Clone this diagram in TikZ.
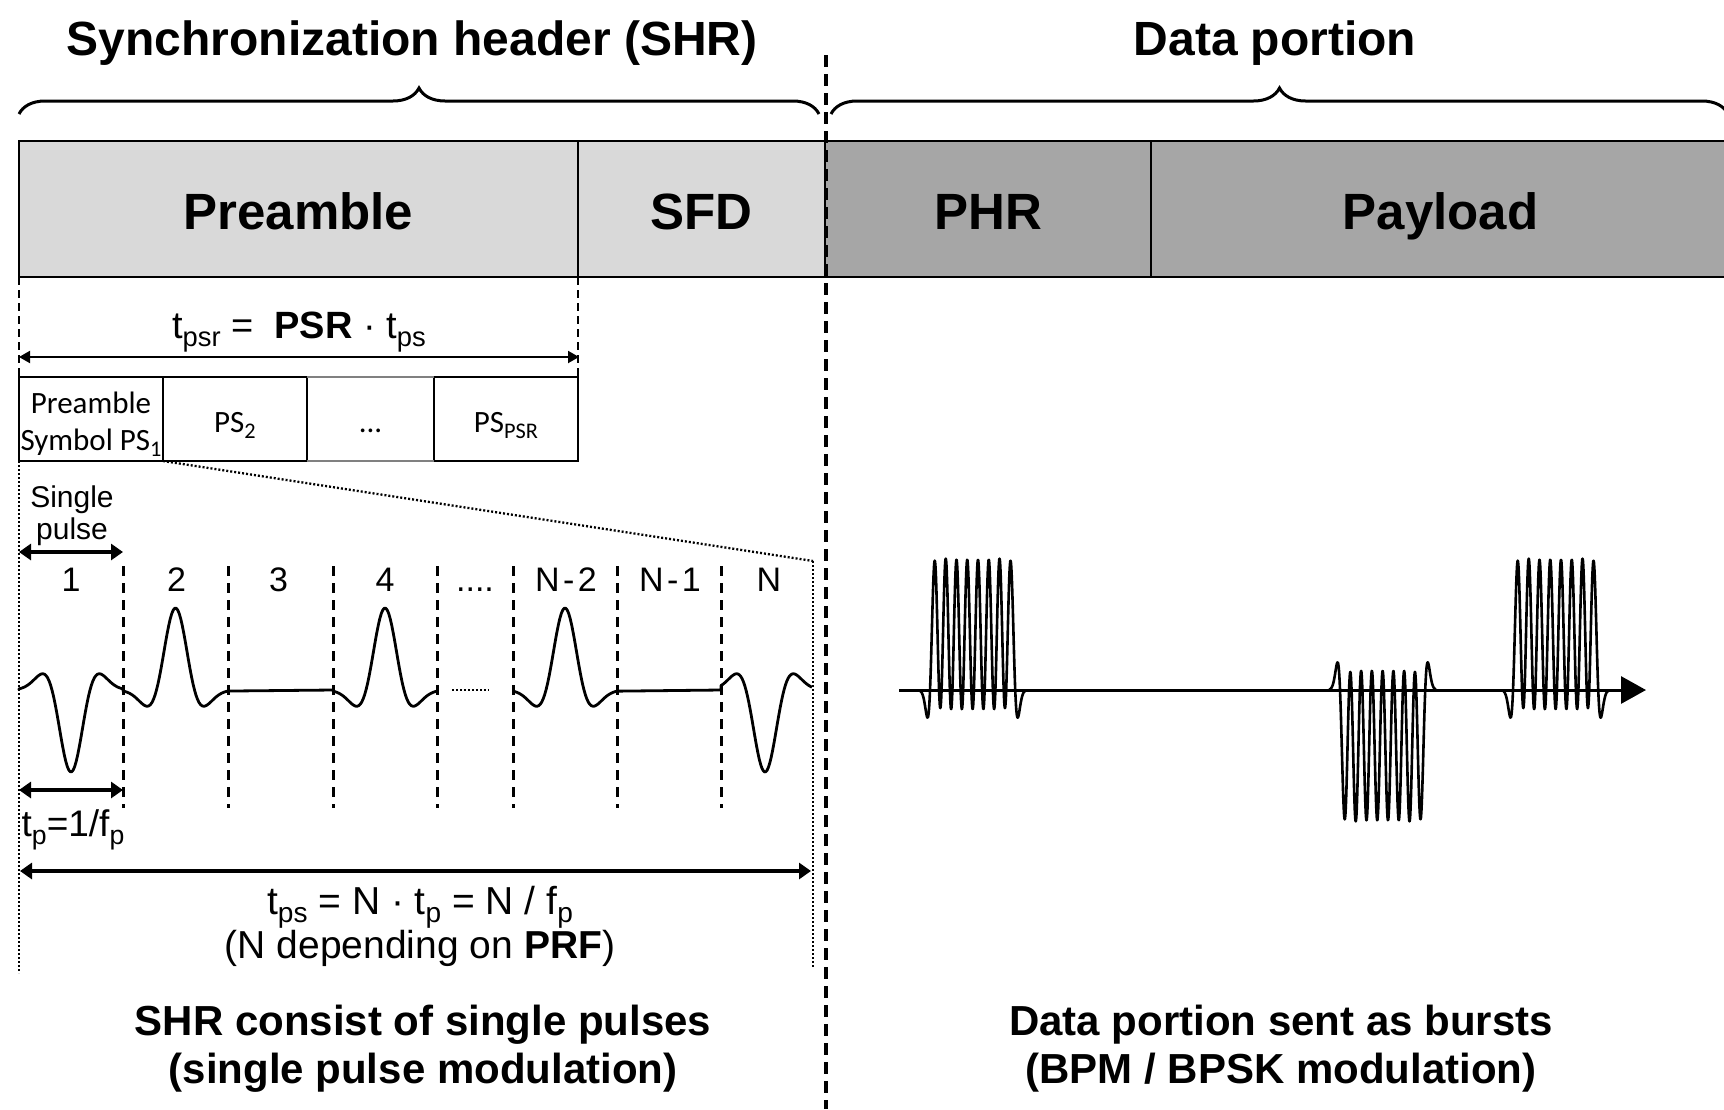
\documentclass[tikz,border=0pt]{standalone}
\usepackage{fontspec}
\setmainfont{Liberation Sans}
\newfontfamily\carlito{Carlito}
\usetikzlibrary{arrows.meta,decorations.pathreplacing}
\newcommand\lo[1]{\raisebox{-0.22em}{\scalebox{0.72}{#1}}}
\newcommand\fs[1]{\fontsize{#1}{#1}\selectfont}
\newcommand\dash[2]{#1\hspace{3.5pt}-\hspace{3.5pt}#2}
\definecolor{shrgray}{HTML}{D9D9D9}
\definecolor{datagray}{HTML}{A6A6A6}
\begin{document}
\begin{tikzpicture}[x=1pt,y=-1pt,
  every node/.style={inner sep=0pt, outer sep=0pt},
  lbl/.style={anchor=base},
  cell/.style={draw, line width=2.8pt, minimum height=136pt, text height=40pt, text depth=0pt, font=\fs{51}\bfseries},
  psbox/.style={draw, line width=2.5pt, minimum height=84pt, minimum width=144pt},
  thindim/.style={line width=2pt, {Triangle[length=11pt,width=12pt]}-{Triangle[length=11pt,width=12pt]}},
  thickdim/.style={line width=3.2pt, {Triangle[length=12pt,width=16pt]}-{Triangle[length=12pt,width=16pt]}},
  slotline/.style={line width=3pt, dash pattern=on 10pt off 7pt},
  boxguide/.style={line width=2.5pt, dash pattern=on 8pt off 5pt},
  guide/.style={line width=2.3pt, dash pattern=on 2pt off 2pt},
  wave/.style={line width=2.8pt, line join=round},
  burstline/.style={line width=2.6pt, line join=round},
  bracket/.style={line width=3pt, decorate, decoration={brace, amplitude=26pt}},
  declare function={
    pls(\t)=(1-\t*\t/361)*exp(-min(\t*\t/441,12));
    rk(\t)=(1-min(\t*\t/25,13))*exp(-min(\t*\t/30.25,12));
    burst(\t)=0.91*rk(\t)+rk(\t-10.75)+rk(\t-21.5)+rk(\t-32.25)+rk(\t-43)+rk(\t-53.75)+rk(\t-64.5)+0.91*rk(\t-75.25);
  }]
\useasboundingbox (0,0) rectangle (1724,1109);
\clip (0,0) rectangle (1724,1109);

% headings and braces
\node[lbl, font=\fs{48}\bfseries] (shrtitle) at (412,55) {Synchronization header (SHR)};
\node[lbl, font=\fs{48}\bfseries] (datatitle) at (1275,55) {Data portion};
\coordinate (shrL) at (19,114);
\coordinate (shrR) at (819,114);
\coordinate (datL) at (831,114);
\coordinate (datR) at (1728,114);
\draw[bracket] (shrL) -- (shrR);
\draw[bracket] (datL) -- (datR);

% frame fields
\node[cell, fill=shrgray, minimum width=559pt] (pre) at (298.5,209) {Preamble};
\node[cell, fill=shrgray, minimum width=247pt] (sfd) at (701.5,209) {SFD};
\node[cell, fill=datagray, minimum width=326pt] (phr) at (988,209) {PHR};
\node[cell, fill=datagray, minimum width=579pt] (pay) at (1440.5,209) {Payload};

% divider between header and data
\coordinate (divT) at (826,55);
\coordinate (divB) at (826,1109);
\draw[line width=4pt, dash pattern=on 12pt off 7pt] (divT) -- (divB);

% preamble symbols
\node[psbox] (ps1) at (91,419) {};
\node[psbox] (ps2) at (235,419) {};
\node[psbox] (psN) at (506,419) {};
\draw[gray, line width=2.5pt] (ps2.north east) -- (psN.north west);
\draw[gray, line width=2.5pt] (ps2.south east) -- (psN.south west);
\node[lbl, font=\fs{31}\carlito] (ps1a) at (91,413) {Preamble};
\node[lbl, font=\fs{31}\carlito] (ps1b) at (91,450) {Symbol PS\lo{1}};
\node[lbl, font=\fs{31}\carlito] (ps2t) at (235,432) {PS\lo{2}};
\node[lbl, font=\fs{31}\carlito] (ps3t) at (370.5,432) {...};
\node[lbl, font=\fs{31}\carlito] (psNt) at (506,432) {PS\lo{PSR}};

% preamble duration
\coordinate (preBL) at (19,277);
\coordinate (preBR) at (578,277);
\draw[boxguide] (preBL) -- (ps1.north west);
\draw[boxguide] (preBR) -- (psN.north east);
\node[lbl, font=\fs{38}] (tpsr) at (299,338) {t\lo{psr} =\ \ \textbf{PSR} · t\lo{ps}};
\coordinate (psrL) at (19,357);
\coordinate (psrR) at (579,357);
\draw[thindim] (psrL) -- (psrR);

% zoom into the first symbol
\coordinate (zoomR) at (813,561);
\coordinate (zoomRB) at (813,968);
\coordinate (zoomLB) at (19,973);
\draw[guide] (ps1.south east) -- (zoomR);
\draw[guide] (zoomR) -- (zoomRB);
\draw[guide] (ps1.south west) -- (zoomLB);

\node[lbl, font=\fs{30}] (sp1) at (72,507) {Single};
\node[lbl, font=\fs{30}] (sp2) at (72,539) {pulse};
\coordinate (spL) at (19,552);
\coordinate (spR) at (123,552);
\draw[thickdim] (spL) -- (spR);

% pulse slots
\foreach \xx [count=\i] in {123,228,333,437,513,617,721}
  \draw[slotline] (\xx,566) coordinate (slotT\i) -- (\xx,808) coordinate (slotB\i);
\foreach \xx/\txt [count=\i] in {71/{1},176.5/{2},278.5/{3},385/{4},475/{.\kern0pt.\kern0pt.\kern0pt.},566/{\dash{N}{2}},670/{\dash{N}{1}},769/{N}}
  \node[lbl, font=\fs{34}] (num\i) at (\xx,591) {\txt};

% single pulse train
\draw[wave] (19,690)
  -- plot[domain=19:123, samples=70] (\x, {690+82*pls(\x-71)})
  -- plot[domain=123:228, samples=70] (\x, {690-82*pls(\x-175.5)})
  -- (333,690)
  -- plot[domain=333:437, samples=70] (\x, {690-82*pls(\x-385)});
\draw[wave] plot[domain=513:617, samples=70] (\x, {690-82*pls(\x-565)})
  -- (721,690)
  -- plot[domain=721:812, samples=70] (\x, {690+82*pls(\x-765)});
\coordinate (gapL) at (452,690);
\coordinate (gapR) at (489,690);
\draw[guide] (gapL) -- (gapR);

% pulse and symbol durations
\coordinate (tpL) at (19,790);
\coordinate (tpR) at (123,790);
\draw[thickdim] (tpL) -- (tpR);
\node[lbl, font=\fs{37}] (tplbl) at (73,836) {t\lo{p}=1/f\lo{p}};
\coordinate (tsL) at (20,871);
\coordinate (tsR) at (811,871);
\draw[thickdim] (tsL) -- (tsR);
\node[lbl, font=\fs{39}] (tslbl) at (420,914) {t\lo{ps} = N · t\lo{p} = N / f\lo{p}};
\node[lbl, font=\fs{39}] (nlbl) at (420,958) {(N depending on \textbf{PRF})};

% data bursts
\coordinate (axL) at (899,690);
\coordinate (axR) at (1646,690);
\draw[line width=3pt, -{Triangle[length=25pt,width=27pt]}] (axL) -- (axR);
\draw[burstline] plot[domain=919:1026, samples=321] (\x, {690-155*burst(\x-935)});
\draw[burstline] plot[domain=1329:1436, samples=321] (\x, {690+155*burst(\x-1345)});
\draw[burstline] plot[domain=1502:1609, samples=321] (\x, {690-155*burst(\x-1518)});

% captions
\node[lbl, font=\fs{42}\bfseries] (capL1) at (423,1035) {SHR consist of single pulses};
\node[lbl, font=\fs{42}\bfseries] (capL2) at (423,1083) {(single pulse modulation)};
\node[lbl, font=\fs{42}\bfseries] (capR1) at (1281,1035) {Data portion sent as bursts};
\node[lbl, font=\fs{42}\bfseries] (capR2) at (1281,1083) {(BPM / BPSK modulation)};
\end{tikzpicture}
\end{document}
